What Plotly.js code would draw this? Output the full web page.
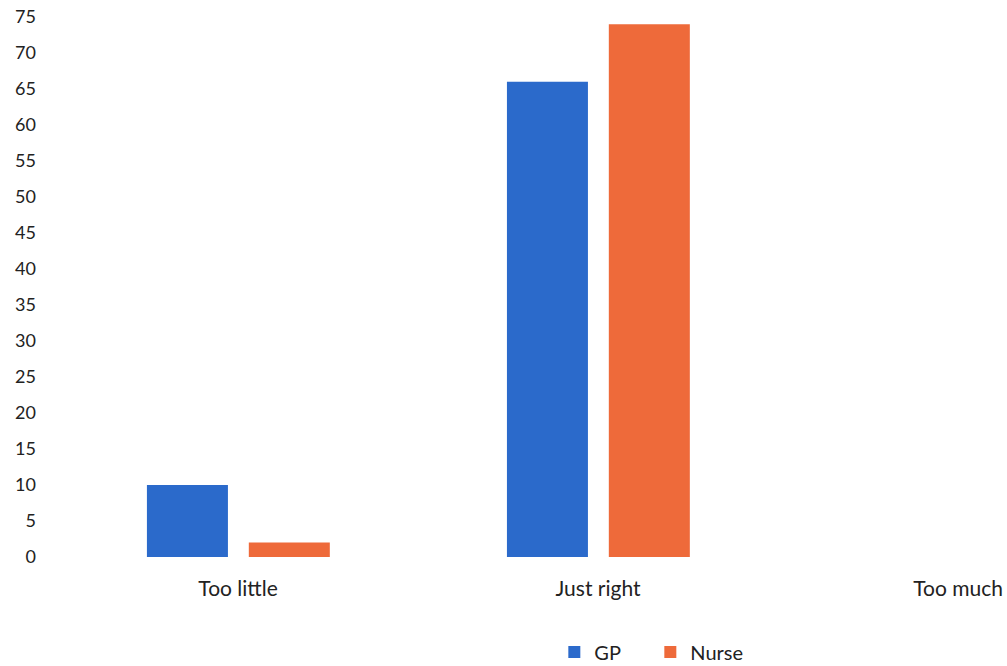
<!DOCTYPE html>
<html>
<head>
<meta charset="utf-8">
<script src="https://cdn.plot.ly/plotly-3.0.1.min.js"></script>
<style>html,body{margin:0;padding:0;background:#fff;}#chart{width:1007px;height:666px;}</style>
</head>
<body>
<div id="chart"></div>
<script>
const categories = ["Too little", "Just right", "Too much"];
const gpValues = [10, 66, 0];
const nurseValues = [2, 74, 0];
const seriesNames = ["GP", "Nurse"];
const yTicks = [0, 5, 10, 15, 20, 25, 30, 35, 40, 45, 50, 55, 60, 65, 70, 75];

const fam = "Lato, 'Open Sans', sans-serif";
const col = "#222";

const traces = [
  {type: "bar", name: seriesNames[0], x: categories, y: gpValues,
   marker: {color: "#2b6acb"}, width: 0.225, offset: -0.253},
  {type: "bar", name: seriesNames[1], x: categories, y: nurseValues,
   marker: {color: "#ee6a3a"}, width: 0.225, offset: 0.03}
];

const layout = {
  width: 1007, height: 666,
  margin: {l: 58, r: 0, t: 17, b: 109, autoexpand: false},
  paper_bgcolor: "#fff", plot_bgcolor: "#fff",
  font: {family: fam, size: 18, color: col},
  showlegend: true,
  legend: {orientation: "h", x: 0.523, xanchor: "left", yref: "container", y: 0.021, yanchor: "middle",
           entrywidth: 51, entrywidthmode: "pixels",
           font: {family: fam, size: 20, color: col}, traceorder: "normal"},
  xaxis: {type: "category", range: [-0.5, 2.136], showgrid: false, zeroline: false,
          showline: false, ticks: "", ticklabelstandoff: 17, tickfont: {family: fam, size: 21, color: col}},
  yaxis: {range: [0, 75], tickvals: yTicks, ticktext: yTicks.map(String),
          showgrid: false, zeroline: false, showline: false, ticks: "",
          ticklabelstandoff: 21, tickfont: {family: fam, size: 18, color: col}}
};

Plotly.newPlot("chart", traces, layout, {displayModeBar: false, staticPlot: true});
</script>
</body>
</html>
